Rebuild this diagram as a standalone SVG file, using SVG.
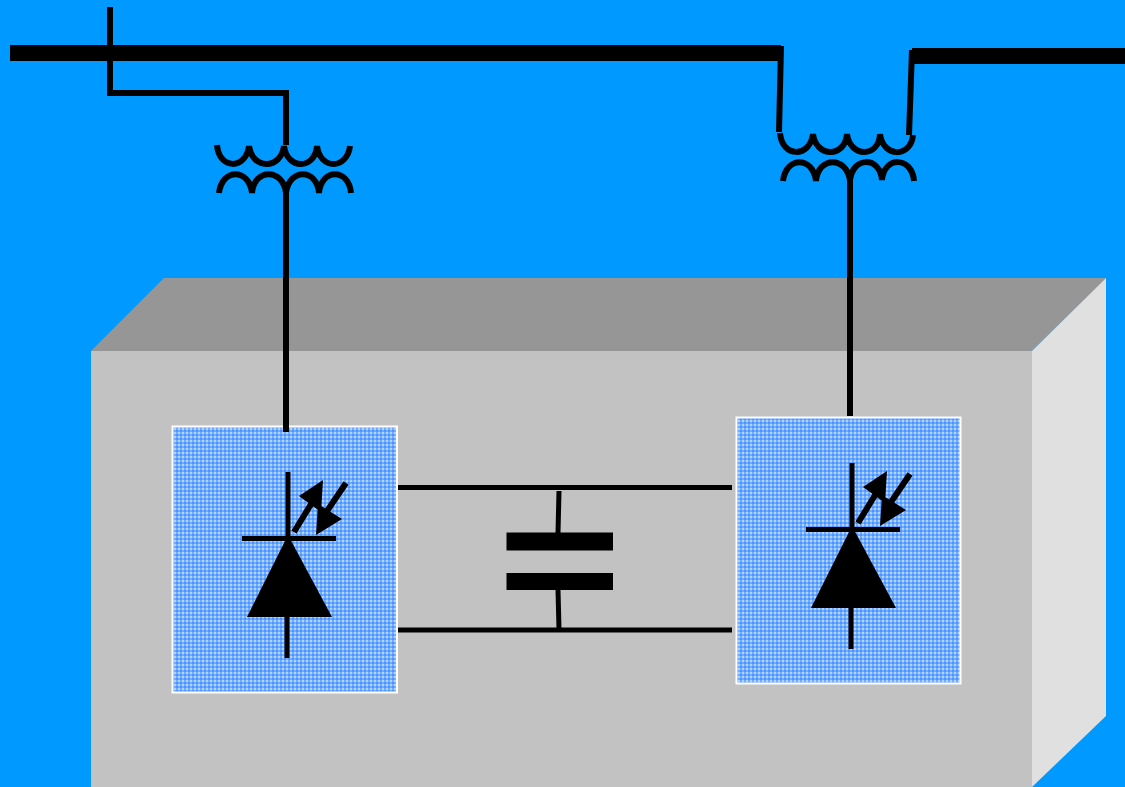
<svg xmlns="http://www.w3.org/2000/svg" width="1125" height="787" viewBox="0 0 1125 787">
<style>
.w{fill:none;stroke:#000;stroke-linecap:butt;stroke-linejoin:miter}
.t4{stroke-width:5}
.t5{stroke-width:6}
.coil{fill:none;stroke:#000;stroke-width:6}
.panel{fill:url(#dither);stroke:#fff;stroke-width:2}
</style>
<defs>
<pattern id="dither" width="4" height="4" patternUnits="userSpaceOnUse" x="172" y="426">
<rect width="4" height="4" fill="#4a96ff"/>
<rect x="2" width="2" height="4" fill="#6fabff"/>
<rect y="2" width="4" height="2" fill="#6fabff"/>
<rect x="2" y="2" width="2" height="2" fill="#b4d2ff"/>
</pattern>
<g id="thy">
<path class="w t4" d="M288 472V536M242 538.500H336M287 616V658"/>
<path d="M288 535L332 617H247Z"/>
<path class="w t5" d="M294 532L316 496M323 517L346 483"/>
<path d="M323 480L299 496L321 512ZM316 535L342 519L318 504Z"/>
</g>
</defs>
<rect id="background" width="1125" height="787" fill="#0099ff"/>
<g id="cabinet">
<path d="M91 351L164 278H1106L1032 351Z" fill="#969696"/>
<path d="M1032 351L1106 278V716L1032 787Z" fill="#e0e0e0"/>
<rect x="91" y="351" width="941" height="436" fill="#c2c2c2"/>
</g>
<g id="thyristor-left">
<rect class="panel" x="172.500" y="426.500" width="224.500" height="266"/>
<use href="#thy"/>
</g>
<g id="thyristor-right">
<rect class="panel" x="736.500" y="417.500" width="224" height="266"/>
<use href="#thy" x="564" y="-9"/>
</g>
<g id="capacitor">
<rect x="506.500" y="532.500" width="106.500" height="18"/>
<rect x="506.500" y="573" width="106.500" height="17"/>
</g>
<g id="transformer-left">
<path class="coil" d="M217 145C219 170 246 170 249 146C252 170 281 170 284 146C287 170 315 170 317 146C320 170 347 170 350 146"/>
<path class="coil" d="M219 193C222 168 249 168 252 193C254 168 283 168 286 193C289 168 317 168 319 193C321 168 349 168 351 193"/>
</g>
<g id="transformer-right">
<path class="coil" d="M780 133C782 158 810 158 813 134C816 158 845 158 847 134C850 158 879 158 880 134C883 158 911 158 913 135"/>
<path class="coil" d="M783 181C786 156 813 156 816 181C818 156 847 156 850 181C852 156 880 156 882 180C884 156 912 156 914 181"/>
</g>
<g id="connectors">
<rect x="10" y="45" width="771" height="16"/>
<rect x="912" y="48" width="213" height="16"/>
<path class="w t5" d="M110 7V93H286V145"/>
<path class="w t5" d="M781 46L779 132M912 50L909 135"/>
<path class="w t5" d="M286 190V432M850 178V416"/>
<path class="w t4" d="M398 487.500H732M398 630H732M559 491L558 533M558 590L559 629"/>
</g>
</svg>
